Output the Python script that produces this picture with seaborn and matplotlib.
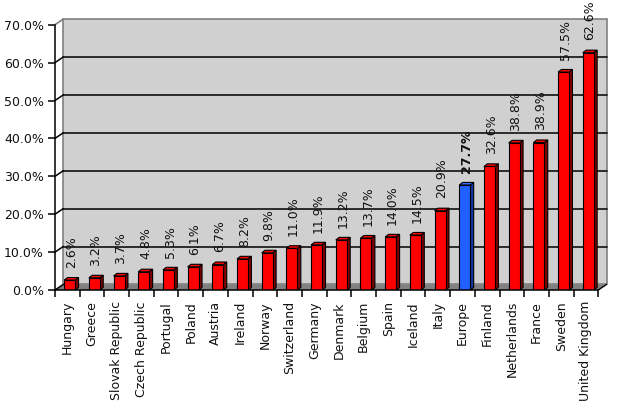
import matplotlib
matplotlib.use("Agg")
import matplotlib.pyplot as plt
import seaborn as sns
import pandas as pd
from matplotlib.patches import Polygon

categories = ["Hungary", "Greece", "Slovak Republic", "Czech Republic", "Portugal",
              "Poland", "Austria", "Ireland", "Norway", "Switzerland", "Germany",
              "Denmark", "Belgium", "Spain", "Iceland", "Italy", "Europe", "Finland",
              "Netherlands", "France", "Sweden", "United Kingdom"]
values = [2.6, 3.2, 3.7, 4.8, 5.3, 6.1, 6.7, 8.2, 9.8, 11.0, 11.9, 13.2, 13.7,
          14.0, 14.5, 20.9, 27.7, 32.6, 38.8, 38.9, 57.5, 62.6]
highlight = "Europe"
y_ticks = [0, 10, 20, 30, 40, 50, 60, 70]

sns.set_theme(style="white")
plt.rcParams['font.family'] = ['DejaVu Sans']

df = pd.DataFrame({"cat": categories, "val": values})
front = {c: ("#2060ff" if c == highlight else "#ff0000") for c in categories}
side = {c: ("#1038a0" if c == highlight else "#800000") for c in categories}
topc = {c: ("#3070ff" if c == highlight else "#ff0000") for c in categories}

W, H = 629, 409
fig = plt.figure(figsize=(W / 100, H / 100), dpi=100)
ax_l, ax_r, ax_b, ax_t = 55, 598.3, 290, 24.7
ax = fig.add_axes([ax_l / W, (H - ax_b) / H, (ax_r - ax_l) / W, (ax_b - ax_t) / H])
ax.set_facecolor("none")

n = len(categories)
sns.barplot(data=df, x="cat", y="val", hue="cat", palette=front, legend=False,
            saturation=1, width=0.445, edgecolor="black", linewidth=0.8, ax=ax, zorder=5)
bars = list(ax.patches)
ax.set_xlim(-0.5, n - 0.5)
ax.set_ylim(0, 70)

pxx = (ax_r - ax_l) / n          # px per x unit
pxy = (ax_b - ax_t) / 70.0       # px per y unit
wdx, wdy = 8.3 / pxx, 5.6 / pxy  # wall depth offset
bdx, bdy = 3.4 / pxx, 2.6 / pxy  # bar depth offset
shift = 2.3 / pxx

# back wall
ax.add_patch(Polygon([(-0.5 + wdx, wdy), (n - 0.5 + wdx, wdy), (n - 0.5 + wdx, 70 + wdy),
                      (-0.5 + wdx, 70 + wdy)], closed=True, facecolor="#d0d0d0",
                     edgecolor="#808080", lw=1.2, clip_on=False, zorder=0))
# floor
ax.add_patch(Polygon([(-0.5, 0), (n - 0.5, 0), (n - 0.5 + wdx, wdy), (-0.5 + wdx, wdy)],
                     closed=True, facecolor="#808080", edgecolor="none", clip_on=False, zorder=1))
ax.plot([n - 0.5, n - 0.5 + wdx], [0, wdy], color="black", lw=1, clip_on=False, zorder=2)
ax.plot([-0.5, -0.5 + wdx], [70, 70 + wdy], color="#808080", lw=1.2, clip_on=False, zorder=2)
for yv in y_ticks[1:-1]:
    ax.plot([-0.5 + wdx, n - 0.5 + wdx], [yv + wdy, yv + wdy], color="black", lw=1.1,
            clip_on=False, zorder=2)
for yv in y_ticks[:-1]:
    ax.plot([-0.5, -0.5 + wdx], [yv, yv + wdy], color="black", lw=1.1, clip_on=False, zorder=2)

# 3D faces for bars + value labels
for p, c, v in zip(bars, categories, values):
    p.set_x(p.get_x() + shift)
    x0 = p.get_x()
    x1 = x0 + p.get_width()
    h = p.get_height()
    ax.add_patch(Polygon([(x1, 0), (x1 + bdx, bdy), (x1 + bdx, h + bdy), (x1, h)], closed=True,
                         facecolor=side[c], edgecolor="black", lw=0.8, zorder=4, clip_on=False))
    ax.add_patch(Polygon([(x0, h), (x1, h), (x1 + bdx, h + bdy), (x0 + bdx, h + bdy)], closed=True,
                         facecolor=topc[c], edgecolor="black", lw=0.8, zorder=4, clip_on=False))
    ax.annotate(f"{v:.1f}%", xy=((x0 + x1 + bdx) / 2, h + bdy), xytext=(0, 7),
                textcoords="offset points", rotation=90, ha="center", va="bottom",
                fontsize=9, color="#111111",
                fontweight="bold" if c == highlight else "normal", annotation_clip=False)

# axes styling
for s in ["top", "right"]:
    ax.spines[s].set_visible(False)
for s in ["left", "bottom"]:
    ax.spines[s].set_color("black")
    ax.spines[s].set_linewidth(1.1)
    ax.spines[s].set_zorder(6)
ax.set_yticks(y_ticks)
ax.set_yticklabels([f"{t:.1f}%" for t in y_ticks], fontsize=9, color="#111111")
ax.set_xticks(range(n))
ax.set_xticklabels(categories, rotation=90, fontsize=9, color="#111111")
ax.set_xticks([i - 0.5 for i in range(n + 1)], minor=True)
ax.tick_params(axis="y", which="major", direction="out", length=5, width=1.1, color="black", pad=3, left=True)
ax.tick_params(axis="x", which="major", length=0, pad=8)
ax.tick_params(axis="x", which="minor", direction="out", length=5, width=1.1, color="black", bottom=True)
ax.set_xlabel("")
ax.set_ylabel("")
ax.grid(False)

fig.savefig("out.png", dpi=100, facecolor="white")
